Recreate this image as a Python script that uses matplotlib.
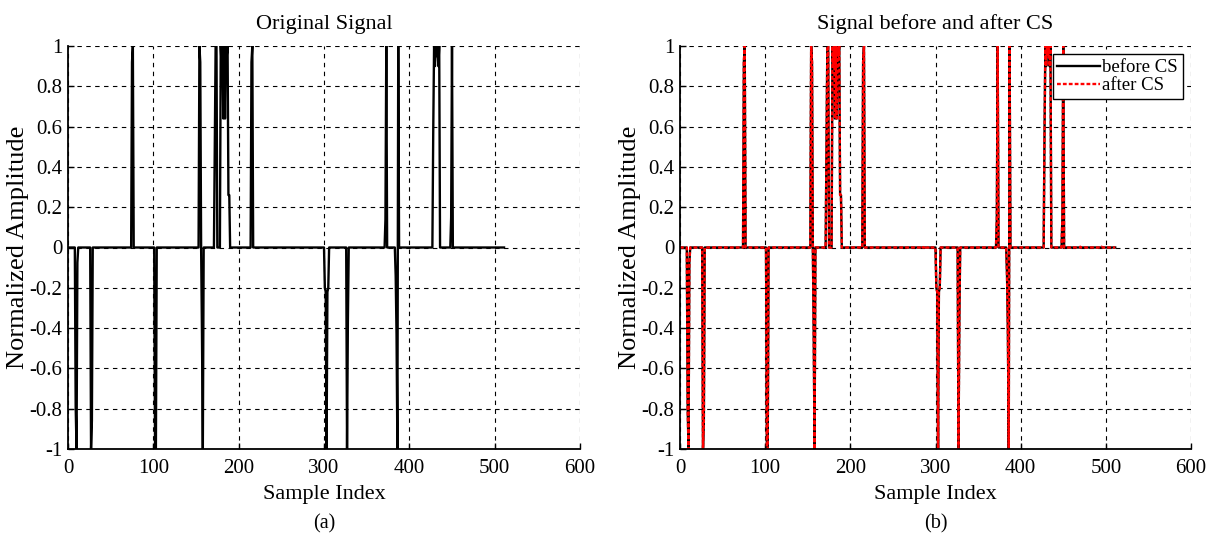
import numpy as np
import matplotlib
matplotlib.use('Agg')
from matplotlib import pyplot as plt

plt.rcParams['font.family'] = ['Liberation Serif', 'DejaVu Serif']
plt.rcParams['axes.unicode_minus'] = False

# signal length and non-zero samples
n_samples = 512
spike_index = [9, 10, 11, 27, 28, 75, 76, 102, 103,
               154, 155, 157, 158,
               172, 173, 174,
               179, 180, 181, 182, 183, 184, 185, 186, 187, 188, 189,
               215, 216,
               301, 302, 303, 304, 305, 327, 328,
               372, 373, 384, 385, 386, 387,
               428, 429, 430, 431, 432, 433, 434, 435,
               449, 450]
spike_value = [-0.79, -1.0, -0.075, -1.0, -0.86, 0.92, 1.0, -1.0, -1.0,
               1.0, 0.92, -0.43, -1.0,
               0.5, 1.0, 1.0,
               1.0, 0.9, 1.0, 0.64, 1.0, 0.64, 1.0, 0.95, 1.0, 0.26, 0.26,
               0.92, 1.0,
               -0.2, -0.22, -1.0, -0.22, -0.2, -1.0, -0.36,
               0.14, 1.0, -0.14, -0.43, -1.0, 1.0,
               0.57, 1.0, 0.9, 1.0, 0.95, 1.0, 0.9, 1.0,
               0.15, 1.0]

# reconstruction after CS: same spikes plus tiny residuals near zero
after_index = spike_index + [284, 288, 293, 470, 495]
after_value = spike_value + [0.006, 0.008, 0.005, 0.004, 0.004]

xticks = [0, 100, 200, 300, 400, 500, 600]
yticks = [-1, -0.8, -0.6, -0.4, -0.2, 0, 0.2, 0.4, 0.6, 0.8, 1]
ytick_labels = ['-1', '-0.8', '-0.6', '-0.4', '-0.2', '0', '0.2', '0.4', '0.6', '0.8', '1']

before = np.zeros(n_samples)
before[spike_index] = spike_value
after = np.zeros(n_samples)
after[after_index] = after_value
idx = np.arange(n_samples)

W, H = 1218, 542
fig = plt.figure(figsize=(W / 100, H / 100), dpi=100)
ax1 = fig.add_axes([68 / W, 1 - 449 / H, (580 - 68) / W, (449 - 46) / H])
ax2 = fig.add_axes([680 / W, 1 - 449 / H, (1191 - 680) / W, (449 - 46) / H])


def style(ax, title):
    ax.set_xlim(0, 600)
    ax.set_ylim(-1, 1)
    ax.set_xticks(xticks)
    ax.set_yticks(yticks, ytick_labels)
    ax.grid(True, color='k', linestyle=(0, (4, 4)), linewidth=0.8)
    ax.set_axisbelow(True)
    for s in ['top', 'right']:
        ax.spines[s].set_visible(False)
    for s in ['left', 'bottom']:
        ax.spines[s].set_linewidth(1.3)
    ax.tick_params(direction='in', length=4, width=1, labelsize=15, pad=4)
    ax.tick_params(axis='x', pad=7)
    ax.set_title(title, fontsize=16, pad=12)
    ax.set_xlabel('Sample Index', fontsize=16, labelpad=5)
    ax.set_ylabel('Normalized Amplitude', fontsize=19, labelpad=0)


ax1.plot(idx, before, color='k', linewidth=1.7)
style(ax1, 'Original Signal')

ax2.plot(idx, before, color='k', linewidth=1.7, label='before CS')
ax2.plot(idx, after, color='#ff0000', linestyle=(0, (1.6, 0.9)), linewidth=1.7,
         label='after CS')
style(ax2, 'Signal before and after CS')
leg = ax2.legend(loc='upper right', fancybox=False, edgecolor='k', framealpha=1,
                 fontsize=13.5, handlelength=2.3, handletextpad=0.1, borderpad=0.25,
                 labelspacing=0.05, borderaxespad=0.45)
leg.get_frame().set_linewidth(1.0)

fig.text(324 / W, 1 - 524 / H, '(a)', ha='center', va='center', fontsize=14.5)
fig.text(936 / W, 1 - 524 / H, '(b)', ha='center', va='center', fontsize=14.5)

fig.savefig('out.png', dpi=100)
